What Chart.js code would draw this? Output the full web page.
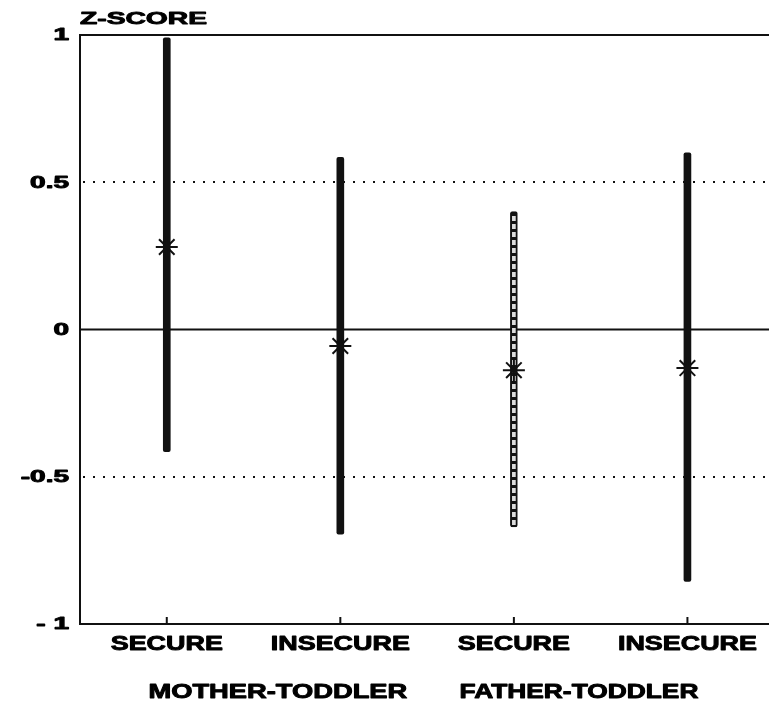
<!DOCTYPE html>
<html>
<head>
<meta charset="utf-8">
<script src="https://cdn.jsdelivr.net/npm/chart.js@4.4.0/dist/chart.umd.min.js"></script>
<style>
  html, body { margin: 0; padding: 0; background: #fff; overflow: hidden; }
  #wrap { width: 769px; height: 702px; position: relative; }
  canvas { display: block; }
</style>
</head>
<body>
<div id="wrap"><canvas id="c"></canvas></div>
<script>
// ---- data ----
const categories = ['SECURE', 'INSECURE', 'SECURE', 'INSECURE'];
const groups = ['MOTHER-TODDLER', 'FATHER-TODDLER'];
const lowValues  = [-0.415, -0.695, -0.67, -0.855];
const highValues = [0.99, 0.585, 0.40, 0.60];
const meanValues = [0.28, -0.056, -0.138, -0.131];
const yTickValues = [1, 0.5, 0, -0.5, -1];
const yTickLabels = ['1', '0.5', '0', '-0.5', '- 1'];
const yTitle = 'Z-SCORE';

const xPositions = categories.map((_, i) => i + 1);

// striped fill for the father-secure bar (white dashed core)
function makeStripePattern() {
  const pc = document.createElement('canvas');
  pc.width = 8; pc.height = 8;
  const p = pc.getContext('2d');
  p.fillStyle = '#111'; p.fillRect(0, 0, 8, 8);
  p.fillStyle = '#ddd'; p.fillRect(0, 0, 8, 5);
  return document.getElementById('c').getContext('2d').createPattern(pc, 'repeat');
}
const stripe = makeStripePattern();

const FONT = '"Liberation Sans", Arial, sans-serif';
function wideText(ctx, text, x, y, size, sx, align) {
  ctx.save();
  ctx.font = 'bold ' + size + 'px ' + FONT;
  ctx.fillStyle = '#000';
  ctx.strokeStyle = '#000';
  ctx.lineWidth = 0.9;
  ctx.lineJoin = 'round';
  ctx.textBaseline = 'middle';
  ctx.textAlign = align;
  ctx.translate(x, y);
  ctx.scale(sx, 1);
  ctx.fillText(text, 0, 0);
  ctx.strokeText(text, 0, 0);
  ctx.restore();
}

const framePlugin = {
  id: 'frame',
  beforeDatasetsDraw(chart) {
    const ctx = chart.ctx;
    const xs = chart.scales.x, ys = chart.scales.y;
    const a = chart.chartArea;
    ctx.save();
    ctx.strokeStyle = '#111';
    // dotted gridlines at +/-0.5
    ctx.lineWidth = 2;
    ctx.setLineDash([2, 8]);
    [0.5, -0.5].forEach(v => {
      const py = Math.round(ys.getPixelForValue(v));
      ctx.beginPath(); ctx.moveTo(a.left + 3, py); ctx.lineTo(a.right, py); ctx.stroke();
    });
    ctx.setLineDash([]);
    // solid lines: top frame (1), zero, bottom (-1)
    [1, 0, -1].forEach(v => {
      const py = ys.getPixelForValue(v);
      ctx.beginPath(); ctx.moveTo(a.left, py); ctx.lineTo(a.right, py); ctx.stroke();
    });
    // y axis
    ctx.beginPath();
    ctx.moveTo(a.left, ys.getPixelForValue(1) - 1);
    ctx.lineTo(a.left, ys.getPixelForValue(-1) + 1);
    ctx.stroke();
    // x tick marks
    const by = ys.getPixelForValue(-1);
    xPositions.forEach(x => {
      const px = xs.getPixelForValue(x);
      ctx.beginPath(); ctx.moveTo(px, by); ctx.lineTo(px, by - 7); ctx.stroke();
    });
    ctx.restore();
  },
  afterDraw(chart) {
    const ctx = chart.ctx;
    const xs = chart.scales.x, ys = chart.scales.y;
    const a = chart.chartArea;
    // y tick labels
    yTickValues.forEach((v, i) => {
      wideText(ctx, yTickLabels[i], a.left - 11, ys.getPixelForValue(v) + 1, 16, 1.75, 'right');
    });
    // title
    wideText(ctx, yTitle, a.left, 19, 17, 1.66, 'left');
    // category labels
    const by = ys.getPixelForValue(-1);
    categories.forEach((c, i) => {
      wideText(ctx, c, xs.getPixelForValue(xPositions[i]), by + 21, 19.5, 1.38, 'center');
    });
    // group labels
    wideText(ctx, groups[0], xs.getPixelForValue(1.64), by + 69, 19.5, 1.4, 'center');
    wideText(ctx, groups[1], xs.getPixelForValue(3.375), by + 69, 19.5, 1.35, 'center');
  }
};

new Chart(document.getElementById('c'), {
  type: 'bar',
  data: {
    datasets: [
      {
        type: 'scatter',
        data: xPositions.map((x, i) => ({ x: x, y: meanValues[i] })),
        pointStyle: 'star',
        radius: 11,
        borderColor: '#111',
        backgroundColor: '#111',
        borderWidth: 2,
        order: 1
      },
      {
        type: 'bar',
        data: xPositions.map((x, i) => ({ x: x, y: [lowValues[i], highValues[i]] })),
        backgroundColor: ['#111', '#111', stripe, '#111'],
        borderColor: '#111',
        borderWidth: [0, 0, 2, 0],
        borderSkipped: false,
        borderRadius: 2,
        barThickness: 7,
        order: 2
      }
    ]
  },
  options: {
    responsive: true,
    maintainAspectRatio: false,
    animation: false,
    layout: { autoPadding: false, padding: { left: 80, top: 35, right: 0, bottom: 78 } },
    plugins: { legend: { display: false }, tooltip: { enabled: false } },
    scales: {
      x: { type: 'linear', min: 0.5, max: 4.47, offset: false, display: false },
      y: { type: 'linear', min: -1, max: 1, display: false }
    }
  },
  plugins: [framePlugin]
});
</script>
</body>
</html>
